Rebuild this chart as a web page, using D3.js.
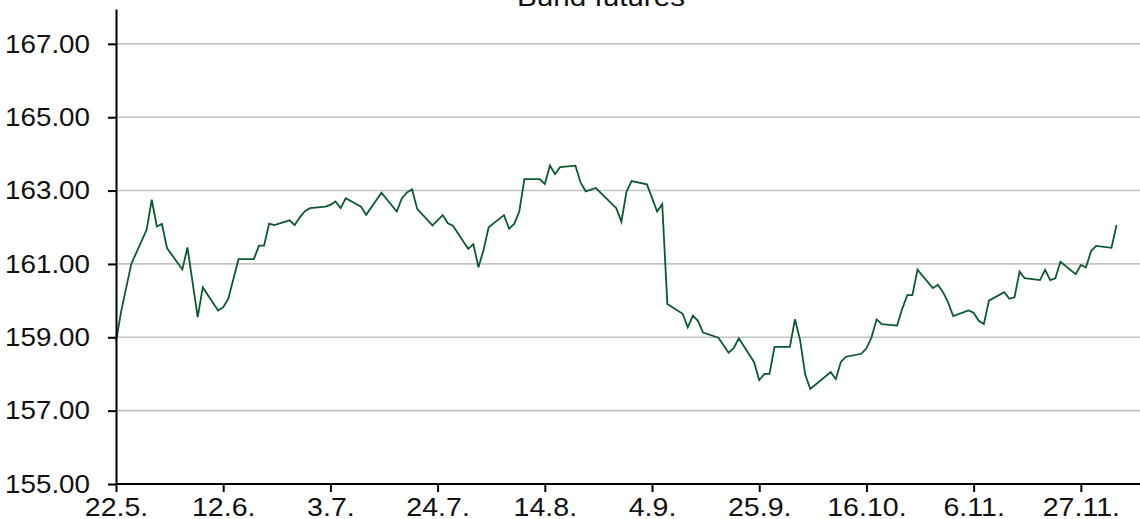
<!DOCTYPE html>
<html>
<head>
<meta charset="utf-8">
<script src="https://cdn.jsdelivr.net/npm/d3@7/dist/d3.min.js"></script>
<style>
  html, body { margin: 0; padding: 0; background: #fff; }
  svg { display: block; font-family: "Liberation Sans", Arial, sans-serif; }
</style>
</head>
<body>
<svg id="chart" width="1140" height="519"></svg>
<script>
const title = "Bund futures";

const dates = [
  "2018-05-22","2018-05-23","2018-05-25","2018-05-28","2018-05-29","2018-05-30","2018-05-31","2018-06-01",
  "2018-06-04","2018-06-05","2018-06-07","2018-06-08","2018-06-11","2018-06-12","2018-06-13","2018-06-15",
  "2018-06-18","2018-06-19","2018-06-20","2018-06-21","2018-06-22","2018-06-25","2018-06-26","2018-06-27",
  "2018-06-28","2018-06-29","2018-07-02","2018-07-03","2018-07-04","2018-07-05","2018-07-06","2018-07-09",
  "2018-07-10","2018-07-13","2018-07-16","2018-07-17","2018-07-18","2018-07-19","2018-07-20","2018-07-23",
  "2018-07-25","2018-07-26","2018-07-27","2018-07-30","2018-07-31","2018-08-01","2018-08-02","2018-08-03",
  "2018-08-06","2018-08-07","2018-08-08","2018-08-09","2018-08-10","2018-08-13","2018-08-14","2018-08-15",
  "2018-08-16","2018-08-17","2018-08-20","2018-08-21","2018-08-22","2018-08-24","2018-08-28","2018-08-29",
  "2018-08-30","2018-08-31","2018-09-03","2018-09-05","2018-09-06","2018-09-07","2018-09-10","2018-09-11",
  "2018-09-12","2018-09-13","2018-09-14","2018-09-17","2018-09-19","2018-09-20","2018-09-21","2018-09-24",
  "2018-09-25","2018-09-26","2018-09-27","2018-09-28","2018-10-01","2018-10-02","2018-10-03","2018-10-04",
  "2018-10-05","2018-10-09","2018-10-10","2018-10-11","2018-10-12","2018-10-15","2018-10-16","2018-10-17",
  "2018-10-18","2018-10-19","2018-10-22","2018-10-23","2018-10-24","2018-10-25","2018-10-26","2018-10-29",
  "2018-10-30","2018-10-31","2018-11-01","2018-11-02","2018-11-05","2018-11-06","2018-11-07","2018-11-08",
  "2018-11-09","2018-11-12","2018-11-13","2018-11-14","2018-11-15","2018-11-16","2018-11-19","2018-11-20",
  "2018-11-21","2018-11-22","2018-11-23","2018-11-26","2018-11-27","2018-11-28","2018-11-29","2018-11-30",
  "2018-12-03","2018-12-04"
];

const prices = [
  158.88,159.70,161.00,161.93,162.75,162.02,162.09,161.43,
  160.85,161.45,159.55,160.36,159.73,159.82,160.05,161.13,
  161.13,161.50,161.50,162.10,162.06,162.19,162.06,162.27,
  162.44,162.52,162.56,162.61,162.70,162.52,162.79,162.56,
  162.34,162.94,162.43,162.79,162.95,163.03,162.50,162.05,
  162.33,162.11,162.04,161.41,161.54,160.91,161.38,162.00,
  162.33,161.96,162.09,162.43,163.31,163.31,163.18,163.68,
  163.45,163.64,163.68,163.22,162.98,163.07,162.52,162.15,
  162.97,163.26,163.17,162.43,162.63,159.91,159.64,159.27,
  159.59,159.45,159.13,158.99,158.58,158.70,158.97,158.32,
  157.83,158.00,158.00,158.74,158.74,159.49,158.93,157.99,
  157.59,158.05,157.86,158.33,158.47,158.55,158.70,159.00,
  159.49,159.36,159.32,159.77,160.15,160.15,160.84,160.34,
  160.43,160.23,159.95,159.58,159.73,159.67,159.45,159.36,
  160.00,160.23,160.05,160.09,160.79,160.61,160.56,160.84,
  160.56,160.61,161.06,160.72,160.97,160.90,161.35,161.49,
  161.44,162.06
];

const xTickDates = ["2018-05-22","2018-06-12","2018-07-03","2018-07-24","2018-08-14",
                    "2018-09-04","2018-09-25","2018-10-16","2018-11-06","2018-11-27"];
const xTickLabels = ["22.5.","12.6.","3.7.","24.7.","14.8.","4.9.","25.9.","16.10.","6.11.","27.11."];
const yTicks = [155, 157, 159, 161, 163, 165, 167];

const parse = d3.timeParse("%Y-%m-%d");
const data = dates.map((d, i) => ({ date: parse(d), value: prices[i] }));

const svg = d3.select("#chart");
const mLeft = 116, mRight = 1137, mTop = 9, mBottom = 484;
const stretch = 1.09;   // reference glyphs are slightly wide

const x = d3.scaleTime()
  .domain([parse("2018-05-22"), parse("2018-12-08")])
  .range([mLeft, mRight]);
const y = d3.scaleLinear()
  .domain([155, 167.95])
  .range([mBottom, mTop]);

// gridlines
svg.append("g")
  .selectAll("line")
  .data(yTicks.filter(v => v !== 155))
  .join("line")
  .attr("x1", mLeft).attr("x2", 1140)
  .attr("y1", d => y(d)).attr("y2", d => y(d))
  .attr("stroke", "#c4c4c4")
  .attr("stroke-width", 1.6);

// line
const line = d3.line().x(d => x(d.date)).y(d => y(d.value));
svg.append("path")
  .datum(data)
  .attr("fill", "none")
  .attr("stroke", "#0b5a30")
  .attr("stroke-width", 1.8)
  .attr("stroke-linejoin", "miter")
  .attr("d", line);

// y axis
const yAxis = d3.axisLeft(y)
  .tickValues(yTicks)
  .tickFormat(d3.format(".2f"))
  .tickSize(8)
  .tickSizeOuter(0)
  .tickPadding(18);
const gy = svg.append("g").attr("transform", `translate(${mLeft},0)`).call(yAxis);
gy.select(".domain").attr("stroke", "#000").attr("stroke-width", 2);
gy.selectAll(".tick line").attr("stroke", "#000").attr("stroke-width", 2);
gy.selectAll(".tick text")
  .attr("fill", "#111")
  .attr("x", -26 / stretch)
  .attr("transform", `scale(${stretch},1)`)
  .style("font-size", "25.5px")
  .style("font-family", "'Liberation Sans', Arial, sans-serif");

// x axis
const xAxis = d3.axisBottom(x)
  .tickValues(xTickDates.map(parse))
  .tickFormat((d, i) => xTickLabels[i])
  .tickSize(8)
  .tickSizeOuter(0)
  .tickPadding(6);
const gx = svg.append("g").attr("transform", `translate(0,${mBottom})`).call(xAxis);
gx.select(".domain").attr("stroke", "#000").attr("stroke-width", 2)
  .attr("d", `M${mLeft},0H1140`);
gx.selectAll(".tick line").attr("stroke", "#000").attr("stroke-width", 2);
gx.selectAll(".tick text")
  .attr("fill", "#111")
  .attr("y", 32)
  .attr("dy", null)
  .attr("transform", `scale(${stretch + 0.03},1)`)
  .style("font-size", "25.5px")
  .style("font-family", "'Liberation Sans', Arial, sans-serif");

// title
svg.append("text")
  .attr("transform", `translate(601,6) scale(${stretch + 0.05},1)`)
  .attr("text-anchor", "middle")
  .attr("fill", "#111")
  .style("font-size", "26px")
  .text(title);
</script>
</body>
</html>
